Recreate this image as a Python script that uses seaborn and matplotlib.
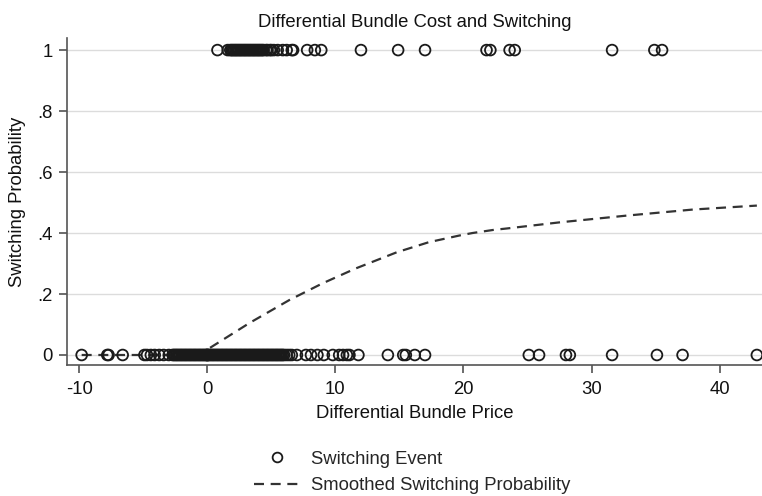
import numpy as np
import pandas as pd
import matplotlib
matplotlib.use("Agg")
import matplotlib.pyplot as plt
import seaborn as sns
from matplotlib.lines import Line2D

# Switching events (x = differential bundle price)
price_switch = [0.8, 1.6, 1.8, 1.9, 2.0, 2.1, 2.2, 2.3, 2.4, 2.5, 2.6, 2.7, 2.8,
                2.9, 3.0, 3.1, 3.2, 3.3, 3.4, 3.5, 3.6, 3.7, 3.8, 3.9, 4.0, 4.1,
                4.2, 4.3, 4.4, 4.6, 4.7, 4.9, 5.0, 5.2, 5.5, 5.9, 6.2, 6.6, 6.7,
                7.8, 8.4, 8.9, 12.0, 14.9, 17.0, 21.8, 22.1, 23.6, 24.0, 31.6,
                34.9, 35.5]

price_stay = [-9.8, -7.8, -7.7, -6.6, -4.9, -4.7, -4.4, -4.1, -3.75, -3.4, -3.0,
              -2.7, -2.6, -2.5, -2.4, -2.3, -2.2, -2.1, -2.0, -1.9, -1.8, -1.7,
              -1.6, -1.5, -1.4, -1.3, -1.2, -1.1, -1.0, -0.9, -0.8, -0.7, -0.6,
              -0.5, -0.4, -0.3, -0.2, -0.1, 0.0, 0.0, 0.0, 0.1, 0.2, 0.3, 0.4,
              0.5, 0.6, 0.7, 0.8, 0.9, 1.0, 1.1, 1.2, 1.3, 1.4, 1.5, 1.6, 1.7,
              1.8, 1.9, 2.0, 2.1, 2.2, 2.3, 2.4, 2.5, 2.6, 2.7, 2.8, 2.9, 3.0,
              3.1, 3.2, 3.3, 3.4, 3.5, 3.6, 3.7, 3.8, 3.9, 4.0, 4.1, 4.2, 4.3,
              4.4, 4.5, 4.6, 4.7, 4.8, 4.9, 5.0, 5.1, 5.2, 5.3, 5.4, 5.5, 5.6,
              5.7, 5.8, 5.9, 6.0, 6.2, 6.4, 6.6, 7.0, 7.7, 8.1, 8.6, 9.1, 9.8,
              10.3, 10.6, 10.9, 11.1, 11.8, 14.1, 15.3, 15.5, 16.2, 17.0, 25.1,
              25.9, 28.0, 28.3, 31.6, 35.1, 37.1, 42.9]

# Smoothed switching probability (lowess curve)
smooth_x = [-9.8, -5.0, -2.0, 0.0, 0.2, 3.3, 6.4, 9.0, 11.6, 14.8, 17.3, 19.7,
            20.7, 22.3, 23.4, 27.5, 32.7, 37.9, 42.9]
smooth_y = [0.0, 0.0, 0.0, 0.0, 0.023, 0.105, 0.18, 0.235, 0.284, 0.337, 0.37,
            0.392, 0.40, 0.41, 0.415, 0.435, 0.457, 0.477, 0.49]

events = pd.DataFrame({
    "price": price_switch + price_stay,
    "switched": [1] * len(price_switch) + [0] * len(price_stay),
})
smooth = pd.DataFrame({"price": smooth_x, "prob": smooth_y})

sns.set_style("white", {"xtick.bottom": True, "ytick.left": True})
plt.rcParams["font.family"] = ["Liberation Sans", "DejaVu Sans"]
plt.rcParams["axes.unicode_minus"] = False

fs = 13.3
fig = plt.figure(figsize=(7.62, 4.96), dpi=100)
ax = fig.add_axes([0.088, 0.264, 0.912, 0.659])

for y in [0, 0.2, 0.4, 0.6, 0.8, 1.0]:
    ax.axhline(y, color="#dcdcdc", lw=1, zorder=0)

sns.scatterplot(data=events, x="price", y="switched", ax=ax, marker="o",
                s=60, facecolors="none", edgecolor="#1a1a1a", linewidth=1.3,
                zorder=3, legend=False)
sns.lineplot(data=smooth, x="price", y="prob", ax=ax, color="#333333",
             lw=1.6, zorder=2)
ax.lines[-1].set_dashes((4.5, 3))

ax.set_xlim(-10.94, 43.3)
ax.set_ylim(-0.033, 1.039)
ax.set_xticks([-10, 0, 10, 20, 30, 40])
ax.set_xticklabels(["-10", "0", "10", "20", "30", "40"])
ax.set_yticks([0, 0.2, 0.4, 0.6, 0.8, 1.0])
ax.set_yticklabels(["0", ".2", ".4", ".6", ".8", "1"])
ax.tick_params(axis="both", direction="out", length=5.5, width=1.1,
               color="#444444", labelsize=fs, labelcolor="#111111",
               left=True, bottom=True)
ax.tick_params(axis="x", pad=6)
ax.tick_params(axis="y", pad=5)

for side in ["top", "right"]:
    ax.spines[side].set_visible(False)
for side in ["left", "bottom"]:
    ax.spines[side].set_color("#555555")
    ax.spines[side].set_linewidth(1.2)

ax.set_title("Differential Bundle Cost and Switching", fontsize=fs, pad=8,
             color="#111111")
ax.set_xlabel("Differential Bundle Price", fontsize=fs, color="#111111", labelpad=5)
ax.set_ylabel("Switching Probability", fontsize=fs, color="#111111", labelpad=8)

handles = [
    Line2D([], [], marker="o", linestyle="none", markersize=7,
           markerfacecolor="none", markeredgecolor="#1a1a1a", markeredgewidth=1.3),
    Line2D([], [], color="#333333", lw=1.6, dashes=(4.5, 3)),
]
fig.legend(handles, ["Switching Event", "Smoothed Switching Probability"],
           loc="upper left", bbox_to_anchor=(0.333, 0.091), frameon=False,
           fontsize=fs, handlelength=2.5, handletextpad=0.6, labelspacing=0.5,
           borderpad=0, borderaxespad=0)

fig.savefig("out.png", dpi=100)
